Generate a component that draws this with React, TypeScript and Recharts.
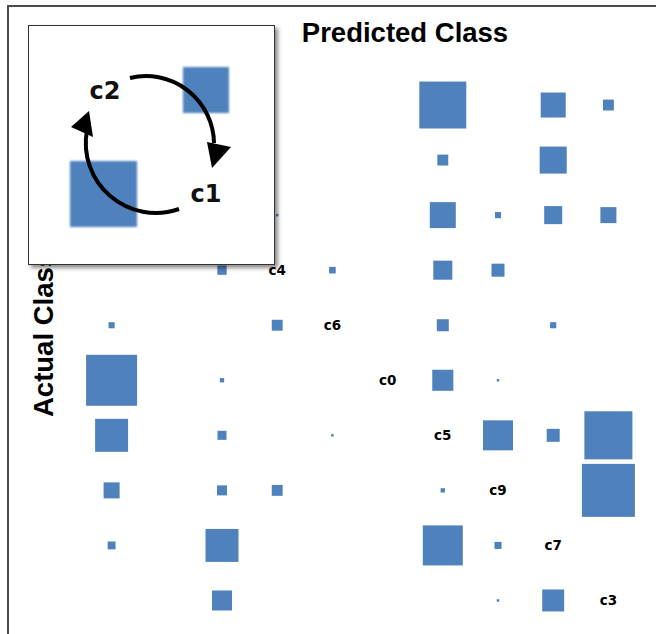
import React from "react";
import { ScatterChart, Scatter, XAxis, YAxis } from "recharts";

// class order along both axes (rows = actual, cols = predicted)
const classes = ["c8", "c2", "c1", "c4", "c6", "c0", "c5", "c9", "c7", "c3"];

// confusion counts, one row per actual class
const counts = [
  [0, 0, 0, 0, 0, 0, 353, 0, 100, 19],
  [0, 0, 0, 0, 0, 0, 19, 0, 117, 0],
  [0, 0, 0, 1, 0, 0, 108, 6, 52, 41],
  [0, 0, 14, 0, 7, 0, 58, 27, 0, 0],
  [6, 0, 0, 19, 0, 0, 23, 0, 6, 0],
  [416, 0, 3, 0, 0, 0, 71, 1, 0, 0],
  [174, 0, 13, 0, 1, 0, 0, 144, 27, 369],
  [41, 0, 16, 19, 0, 0, 3, 0, 0, 449],
  [10, 0, 174, 0, 0, 0, 256, 8, 0, 0],
  [0, 0, 64, 0, 0, 0, 0, 1, 77, 0],
];

// the first rows' diagonal sits under the inset, so its labels are not drawn
const hiddenUnderInset = 3;

const BLUE = "#4f81bd";

const cells = counts.flatMap((row, r) =>
  row
    .map((count, c) => ({ x: c + 1, y: r + 1, count }))
    .filter((d) => d.count > 0)
);

const diag = classes
  .map((name, i) => ({ x: i + 1, y: i + 1, name }))
  .slice(hiddenUnderInset);

const Square = (props: any) => {
  const { cx, cy, payload } = props;
  const side = 2.5 * Math.sqrt(payload.count);
  return (
    <rect
      x={cx - side / 2}
      y={cy - side / 2}
      width={side}
      height={side}
      fill={BLUE}
    />
  );
};

const DiagLabel = (props: any) => {
  const { cx, cy, payload } = props;
  return (
    <text
      x={cx}
      y={cy}
      textAnchor="middle"
      dominantBaseline="central"
      fontFamily="DejaVu Sans"
      fontWeight="bold"
      fontSize={13.5}
      fill="#000"
    >
      {payload.name}
    </text>
  );
};

function Inset() {
  return (
    <div
      style={{
        position: "absolute",
        left: 28,
        top: 25,
        width: 247,
        height: 240,
        boxSizing: "border-box",
        border: "1.5px solid #333",
        background: "#fff",
        boxShadow: "3px 3px 4px rgba(0,0,0,0.45)",
      }}
    >
      <svg width={245} height={238} style={{ display: "block" }}>
        <defs>
          <filter id="soft">
            <feGaussianBlur stdDeviation="0.8" />
          </filter>
        </defs>
        <rect x={41} y={135} width={67} height={66} fill={BLUE} filter="url(#soft)" />
        <rect x={154} y={41} width={46} height={46} fill={BLUE} filter="url(#soft)" />
        <path d="M 101 52 A 68 68 0 0 1 185 117" fill="none" stroke="#000" strokeWidth={4} />
        <polygon points="178,116 202,121 183,142" fill="#000" />
        <path d="M 150 183 A 70 70 0 0 1 58 104" fill="none" stroke="#000" strokeWidth={4} />
        <polygon points="42,101 64,111 60,85" fill="#000" />
        <text x={76} y={65} textAnchor="middle" dominantBaseline="central" fontFamily="DejaVu Sans" fontWeight="bold" fontSize={24} fill="#111">
          c2
        </text>
        <text x={177} y={168} textAnchor="middle" dominantBaseline="central" fontFamily="DejaVu Sans" fontWeight="bold" fontSize={24} fill="#111">
          c1
        </text>
      </svg>
    </div>
  );
}

export default function App() {
  return (
    <div
      style={{
        position: "absolute",
        left: 0,
        top: 0,
        width: 656,
        height: 634,
        overflow: "hidden",
        background: "#fff",
      }}
    >
      <div style={{ position: "absolute", left: 0, top: 0 }}>
        <ScatterChart
          width={656}
          height={634}
          margin={{ top: 77.5, right: 20, bottom: 6, left: 84 }}
        >
          <XAxis type="number" dataKey="x" domain={[0.5, 10.5]} hide />
          <YAxis type="number" dataKey="y" domain={[0.5, 10.5]} reversed hide />
          <Scatter data={cells} shape={Square} isAnimationActive={false} />
          <Scatter data={diag} shape={DiagLabel} isAnimationActive={false} />
        </ScatterChart>
      </div>

      <svg
        width={656}
        height={634}
        style={{ position: "absolute", left: 0, top: 0, pointerEvents: "none" }}
      >
        <text
          x={405}
          y={42}
          textAnchor="middle"
          fontFamily="Liberation Sans"
          fontWeight="bold"
          fontSize={27.5}
          fill="#000"
        >
          Predicted Class
        </text>
        <text
          transform="translate(53,417) rotate(-90)"
          fontFamily="Liberation Sans"
          fontWeight="bold"
          fontSize={27.5}
          fill="#000"
        >
          Actual Class
        </text>
      </svg>

      <div
        style={{
          position: "absolute",
          left: 7,
          top: 5,
          width: 700,
          height: 700,
          borderTop: "2px solid #4a4a4a",
          borderLeft: "2px solid #4a4a4a",
        }}
      />

      <Inset />
    </div>
  );
}
